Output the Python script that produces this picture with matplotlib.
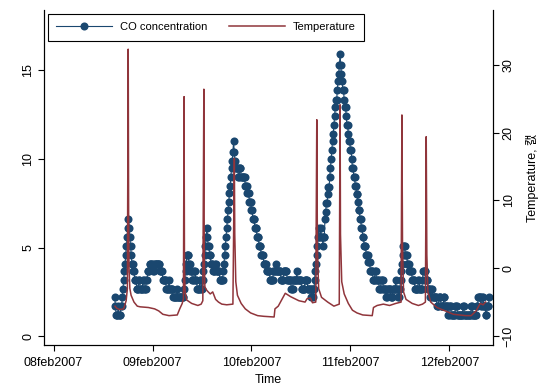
import matplotlib
matplotlib.use("Agg")
import matplotlib.pyplot as plt
import numpy as np
import pandas as pd

plt.rcParams.update({
	"font.family": ["Liberation Sans", "Noto Sans CJK KR", "DejaVu Sans"],
})
font_size = 9

# CO concentration, 10-minute readings, run-length coded (value, number of readings)
co_start = pd.Timestamp("2007-02-08 14:50")
co_level = [2.2, 1.7, 1.2, 1.7, 1.2, 1.7, 2.2,
	2.7, 3.2, 3.7, 4.1, 4.6, 5.1, 5.6, 6.1, 6.6,
	6.1, 5.6, 5.1, 4.6, 4.1, 3.7, 3.2,
	2.7, 3.2, 2.7, 3.2, 2.7, 3.2,
	3.7, 4.1, 3.7, 4.1, 3.7,
	3.2, 2.7, 3.2, 2.7, 2.2, 2.7, 2.2,
	2.7, 3.2, 3.7, 4.1, 4.6,
	4.1, 3.7, 3.2, 3.7, 3.2, 2.7, 3.2, 2.7,
	3.2, 3.7, 4.1, 4.6, 5.1, 5.6, 6.1,
	5.6, 5.1, 4.6, 4.1, 3.7, 4.1, 3.7, 3.2,
	3.7, 4.1, 4.6, 5.1, 5.6, 6.1, 6.6, 7.1, 7.6, 8.1, 8.5, 9.0, 9.5, 9.9, 10.4, 11.0,
	10.4, 9.9, 9.5, 9.0, 9.5, 9.0,
	8.5, 8.1, 7.6, 7.1, 6.6, 6.1, 5.6, 5.1, 4.6, 4.1, 3.7, 3.2,
	3.7, 4.1, 3.7, 3.2, 3.7, 3.2, 2.7, 3.2, 3.7, 3.2, 2.7, 3.2, 2.7, 2.2, 2.7,
	2.2, 2.7, 3.2, 3.7, 4.1, 4.6, 5.1, 5.6, 6.1,
	5.6, 6.1, 5.6, 5.1, 5.6,
	6.6, 7.0, 7.5, 8.0, 8.4, 9.0, 9.5, 10.0, 10.5, 11.0, 11.4, 11.9, 12.4, 12.9, 13.3, 13.9, 14.4, 14.8, 15.3, 15.9,
	15.3, 14.8, 14.4, 13.9, 13.3, 12.9, 12.4, 11.9, 11.4, 11.0, 10.5, 10.0, 9.5, 9.0, 8.5, 8.0, 7.6, 7.1, 6.6, 6.1, 5.6, 5.1, 4.6, 4.2, 3.7,
	3.2, 3.7, 3.2, 2.7, 3.2, 2.7, 2.2, 2.7, 2.2, 2.7, 3.2, 2.7, 2.2,
	2.7, 3.2, 3.7, 4.1, 4.6, 5.1, 4.6, 4.1, 3.7, 3.2,
	2.7, 3.2, 2.7, 3.2, 3.7, 3.2, 2.7, 2.2, 2.7, 2.2,
	2.2, 1.7, 2.2, 1.7, 2.2, 1.7, 1.2, 1.7,
	1.2, 1.7, 1.2, 1.7, 1.2, 1.7, 1.2,
	1.7, 2.2, 1.7, 2.2, 1.7, 1.2, 1.7, 2.2]
co_count = [1, 1, 3, 1, 3, 2, 1,
	1, 1, 1, 1, 1, 1, 1, 1, 1,
	1, 1, 1, 1, 2, 2, 3,
	3, 2, 4, 2, 3, 2,
	3, 5, 2, 8, 4,
	5, 4, 1, 5, 6, 1, 9,
	1, 1, 1, 1, 3,
	2, 3, 3, 2, 2, 4, 2, 2,
	1, 1, 1, 1, 1, 1, 1,
	1, 2, 2, 3, 3, 2, 5, 5,
	1, 1, 1, 1, 1, 1, 1, 1, 1, 1, 1, 1, 1, 1, 1, 1,
	1, 1, 4, 2, 2, 6,
	3, 3, 3, 2, 3, 3, 3, 3, 4, 4, 5, 5,
	4, 1, 6, 4, 5, 6, 3, 5, 1, 6, 5, 4, 5, 1, 2,
	1, 1, 1, 1, 1, 1, 1, 1, 1,
	2, 1, 2, 1, 2,
	1, 1, 2, 1, 2, 1, 1, 1, 1, 1, 1, 1, 1, 1, 2, 1, 1, 1, 1, 1,
	1, 1, 1, 2, 1, 2, 1, 2, 1, 2, 2, 1, 2, 2, 2, 2, 1, 2, 2, 2, 2, 3, 3, 3, 4,
	3, 2, 4, 3, 3, 4, 2, 5, 3, 4, 1, 3, 2,
	1, 1, 1, 1, 1, 3, 3, 3, 4, 4,
	5, 2, 4, 1, 4, 3, 3, 2, 2, 2,
	4, 3, 3, 4, 2, 4, 2, 3,
	6, 3, 8, 2, 10, 2, 6,
	2, 4, 2, 2, 3, 2, 3, 1]

# temperature, hours after 08feb2007 00:00
temp_hour = [14.9, 15.3, 16.0, 17.0, 17.6, 17.9, 18.1, 18.2, 18.3, 18.5, 18.8, 19.5, 20.3, 21.0,
	23.0, 24.5, 25.5, 26.5, 28.0, 30.0, 30.6, 31.2, 31.5, 31.65, 31.75, 31.9, 32.3, 33.5,
	35.0, 35.8, 36.2, 36.45, 36.55, 36.7, 37.2, 38.0, 38.6, 39.3, 40.0, 40.8, 42.0, 43.5,
	43.85, 43.95, 44.2, 44.6, 45.5, 46.5, 47.8, 49.5, 51.0, 53.5, 53.7, 54.5, 56.2, 57.5,
	59.5, 61.0, 61.5, 62.3, 62.8, 63.6, 63.85, 64.0, 64.3, 65.0, 66.5, 68.0, 69.3, 69.5,
	69.6, 69.9, 70.5, 71.5, 72.5, 73.6, 75.0, 77.3, 77.6, 78.5, 80.0, 81.5, 83.0, 84.3,
	84.5, 84.65, 84.9, 85.5, 87.0, 88.5, 89.5, 90.2, 90.4, 90.55, 90.8, 91.5, 93.0, 95.0,
	97.0, 100.0, 101.3, 102.5, 103.5, 104.2, 104.8]
temp_val = [-5.6, -5.9, -6.1, -6.0, -4.8, -3.0, 32.3, 8.0, 0.0, -3.0, -4.0, -5.0, -5.6, -5.7,
	-5.8, -6.0, -6.3, -6.8, -7.0, -6.9, -6.0, -5.2, -4.5, 25.3, 0.0, -3.5, -4.7, -5.2,
	-5.5, -5.3, -4.8, 26.4, 2.0, -2.8, -3.3, -3.8, -3.5, -4.6, -5.0, -5.3, -5.4, -5.3,
	16.2, 5.0, -2.0, -4.0, -5.2, -6.0, -6.6, -7.0, -7.1, -7.2, -6.0, -5.6, -3.7, -4.2,
	-4.8, -5.0, -4.5, -4.4, -5.1, -5.0, 21.9, 3.0, -3.0, -4.3, -5.0, -5.6, -5.3, 24.1,
	5.0, -2.0, -3.8, -5.2, -6.2, -6.6, -6.9, -7.0, -5.8, -5.5, -5.3, -5.5, -5.2, -5.0,
	22.6, 3.0, -3.5, -4.6, -5.2, -5.5, -5.3, -5.0, 19.4, 2.0, -3.5, -5.0, -5.8, -6.3,
	-6.8, -7.0, -7.0, -6.3, -5.2, -5.4, -5.0]

tick_days = ["2007-02-08", "2007-02-09", "2007-02-10", "2007-02-11", "2007-02-12"]
tick_labels = ["08feb2007", "09feb2007", "10feb2007", "11feb2007", "12feb2007"]

navy = "#1A476F"
maroon = "#90353B"

co_time = co_start + pd.to_timedelta(np.arange(sum(co_count)) * 10, unit="min")
co_val = np.repeat(co_level, co_count)
temp_time = pd.Timestamp("2007-02-08") + pd.to_timedelta(temp_hour, unit="h")

fig = plt.figure(figsize=(5.41, 3.87), dpi=100)
ax = fig.add_axes([44/541, 42/387, 449/541, 335/387])
ax2 = ax.twinx()

l1, = ax.plot(co_time, co_val, color=navy, marker="o", markersize=5.8, markeredgewidth=0, linewidth=0.8, label="CO concentration")
l2, = ax2.plot(temp_time, temp_val, color=maroon, linewidth=1.1, label="Temperature")

# x
t0 = pd.Timestamp("2007-02-08")
ax.set_xlim(t0 - pd.Timedelta(hours=2.33), t0 + pd.Timedelta(hours=106.6))
ax.set_xticks(pd.to_datetime(tick_days))
ax.set_xticklabels(tick_labels, fontsize=font_size)
ax.set_xlabel("Time", fontsize=font_size, labelpad=3)
ax.tick_params(axis="x", pad=5)
# y
ax.set_ylim(-0.48, 18.39)
ax.set_yticks([0, 5, 10, 15])
ax2.set_ylim(-11.33, 38.08)
ax2.set_yticks([-10, 0, 10, 20, 30])
for a in (ax, ax2):
	a.tick_params(which="major", length=4, width=0.8, direction="out", labelsize=font_size)
	a.tick_params(axis="y", pad=3)
	for lab in a.get_yticklabels():
		lab.set_rotation(90)
		lab.set_va("center")
	a.spines["top"].set_visible(False)
	for s in ["left", "right", "bottom"]:
		a.spines[s].set_linewidth(0.8)
ax2.set_ylabel("Temperature, \uce9c", fontsize=font_size, labelpad=8)

# legend
leg = ax2.legend(handles=[l1, l2], loc="upper left", bbox_to_anchor=(48/541, 1-14/387), bbox_transform=fig.transFigure,
	ncol=2, fontsize=8, frameon=True, fancybox=False, edgecolor="black", framealpha=1,
	handlelength=5, handletextpad=0.7, columnspacing=2.0, borderpad=0.75, borderaxespad=0)
leg.get_frame().set_linewidth(0.8)

plt.savefig("out.png", dpi=100)
